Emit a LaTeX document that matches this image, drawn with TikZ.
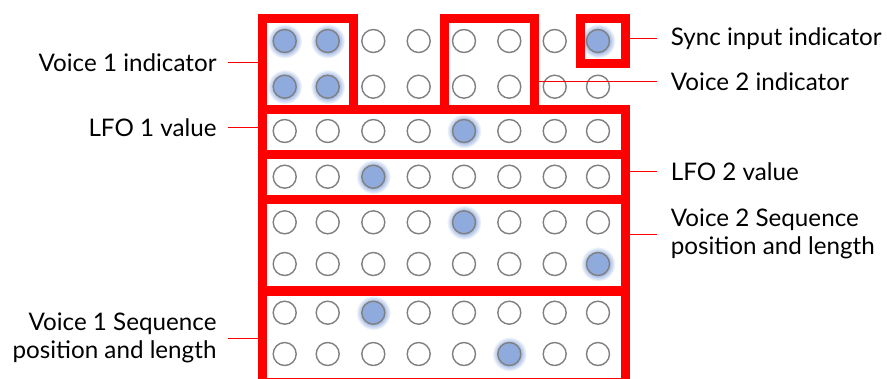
\documentclass[tikz,border=0pt]{standalone}
\usepackage{fontspec}
\setmainfont{Lato}
\usetikzlibrary{positioning}

\definecolor{ledblue}{RGB}{143,170,220}
\definecolor{ledglow}{RGB}{160,184,228}
\definecolor{ledring}{RGB}{128,128,128}
\pgfdeclareradialshading{glowshade}{\pgfpointorigin}{%
  color(0bp)=(ledglow); color(16bp)=(ledglow); color(25bp)=(white); color(50bp)=(white)}

\begin{document}
\begin{tikzpicture}[
    x=1pt, y=-1pt,
    font=\fontsize{24.2}{28.3}\selectfont,
    led/.style={draw=ledring, line width=1.4pt, circle, inner sep=0pt,
                minimum size=23pt, fill=white},
    ledon/.style={led, fill=ledblue},
    glow/.style={shading=glowshade},
    group/.style={draw=red, line width=9pt, inner sep=0pt, outer sep=4.5pt},
    lead/.style={draw=red, line width=0.9pt},
    lablft/.style={inner ysep=0pt, inner xsep=11.5pt, align=right},
    labrgt/.style={inner ysep=0pt, inner xsep=14pt, align=left}
  ]
  \useasboundingbox (0,0) rectangle (887,378);

  % ---- LED matrix ----
  \foreach \r/\y/\pat in {1/41/{1,1,0,0,0,0,0,1}, 2/86.7/{1,1,0,0,0,0,0,0},
                          3/131/{0,0,0,0,1,0,0,0}, 4/176.7/{0,0,1,0,0,0,0,0},
                          5/222.3/{0,0,0,0,1,0,0,0}, 6/264/{0,0,0,0,0,0,0,1},
                          7/312.7/{0,0,1,0,0,0,0,0}, 8/354/{0,0,0,0,0,1,0,0}}
    \foreach \c/\x in {1/284.7, 2/327.7, 3/373.3, 4/418.7,
                       5/464, 6/509.3, 7/554.7, 8/598} {
      \pgfmathtruncatemacro\on{{\pat}[\c-1]}
      \ifnum\on=1
        \shade[glow] (\x,\y) circle[radius=17.5pt];
        \node[ledon] (led-\r-\c) at (\x,\y) {};
      \else
        \node[led] (led-\r-\c) at (\x,\y) {};
      \fi
    }

  % ---- groups ----
  \node[group, minimum width=90.9pt, minimum height=90.9pt] (v1box) at (307.75,63.75) {};
  \node[group, minimum width=89.3pt, minimum height=90.9pt] (v2box) at (489.35,63.75) {};
  \node[group, minimum width=45pt, minimum height=45pt] (syncbox) at (602.8,40.8) {};
  \node[group, minimum width=363pt, minimum height=45.1pt] (lfo1box) at (443.8,131.75) {};
  \node[group, minimum width=363pt, minimum height=45.2pt] (lfo2box) at (443.8,176.9) {};
  \node[group, minimum width=363pt, minimum height=91pt] (v2seqbox) at (443.8,245) {};
  \node[group, minimum width=363pt, minimum height=91pt] (v1seqbox) at (443.8,336.5) {};

  % ---- labels, left ----
  \node[lablft, anchor=base east] (v1lab) at (228.2,71.7) {Voice 1 indicator};
  \node[lablft, anchor=base east] (lfo1lab) at (228.2,136) {LFO 1 value};
  \node[lablft, anchor=east] (v1seqlab) at (228.2,338) {Voice 1 Sequence\\position and length};
  \draw[lead] (v1lab.east) -- (v1lab.east -| v1box.west);
  \draw[lead] (lfo1lab.east) -- (lfo1lab.east -| lfo1box.west);
  \draw[lead] (v1seqlab.east) -- (v1seqlab.east -| v1seqbox.west);

  % ---- labels, right ----
  \node[labrgt, anchor=base west] (synclab) at (656.7,45) {Sync input indicator};
  \node[labrgt, anchor=base west] (v2lab) at (656.7,90) {Voice 2 indicator};
  \node[labrgt, anchor=base west] (lfo2lab) at (656.7,180.7) {LFO 2 value};
  \node[labrgt, anchor=west] (v2seqlab) at (656.7,234) {Voice 2 Sequence\\position and length};
  \draw[lead] (synclab.west) -- (synclab.west -| syncbox.east);
  \draw[lead] (v2lab.west) -- (v2lab.west -| v2box.east);
  \draw[lead] (lfo2lab.west) -- (lfo2lab.west -| lfo2box.east);
  \draw[lead] (v2seqlab.west) -- (v2seqlab.west -| v2seqbox.east);
\end{tikzpicture}
\end{document}
